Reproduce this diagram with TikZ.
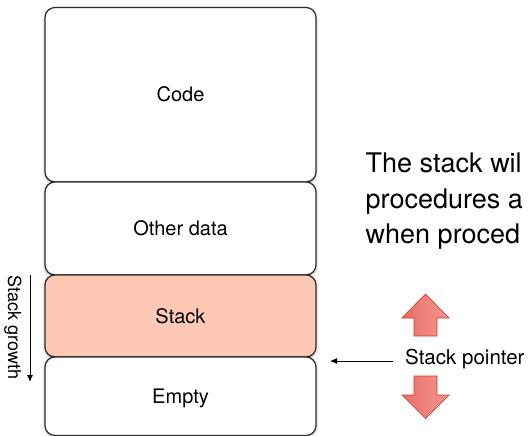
\documentclass[tikz,border=0pt]{standalone}
\usepackage{fontspec}
\setmainfont{TeX Gyre Heros}
\usetikzlibrary{arrows.meta,shadows.blur}

\definecolor{stackfill}{RGB}{253,200,180}
\definecolor{arrleft}{RGB}{232,112,104}
\definecolor{arrright}{RGB}{245,150,142}
\definecolor{arrline}{RGB}{204,58,44}
\definecolor{boxline}{RGB}{45,45,45}

\begin{document}
\begin{tikzpicture}[
                x = 1pt, y = -1pt,
                seg/.style = {draw = boxline, line width = 1.2pt, fill = white, rounded corners = 10pt,
                              minimum width = 271pt, inner sep = 0pt,
                              font = \fontsize{20}{24}\selectfont, text height = 14pt, text depth = 0pt,
                              blur shadow = {shadow xshift = 0pt, shadow yshift = -1pt,
                                             shadow blur radius = 3pt, shadow opacity = 35}},
                blockarr/.style = {draw = arrline, line width = 0.7pt, line join = miter,
                                   left color = arrleft, right color = arrright},
                arr/.style = {draw, line width = 1pt, -{Latex[length = 7pt, width = 6pt]}},
            ]
            \useasboundingbox (0, 0) rectangle (530, 436);
            \clip (0, 0) rectangle (530, 436);

            \node (code) at (180.5, 94.75) [seg, minimum height = 174.5pt] {Code};
            \node (other) at (180.5, 228.5) [seg, minimum height = 93pt] {Other data};
            \node (stack) at (180.5, 316) [seg, minimum height = 82pt, fill = stackfill] {Stack};
            \node (empty) at (180.5, 396.25) [seg, minimum height = 78.5pt] {Empty};

            \coordinate (gtop) at (30, 275);
            \coordinate (gbot) at (30, 382);
            \node (growth) at (13, 275.5) [anchor = west, rotate = -90, inner sep = 0pt]
                {\fontsize{18pt}{22pt}\selectfont Stack growth};
            \path[arr] (gtop) -- (gbot);

            \node (sp) at (405, 364.5) [anchor = base west, inner sep = 0pt, font = \fontsize{20.5}{24}\selectfont] {Stack pointer};
            \coordinate (sptip) at (330, 361);
            \path[arr] (sp.west |- sptip) ++(-12, 0) -- (sptip);

            % grow / shrink
            \path[blockarr] (425.5, 294) -- (449, 318) -- (437, 318) -- (437, 336) -- (414, 336)
                -- (414, 318) -- (402, 318) -- cycle;
            \path[blockarr] (414, 376) -- (437, 376) -- (437, 395) -- (449, 395) -- (425.5, 418.5)
                -- (402, 395) -- (414, 395) -- cycle;

            \node (note) at (365.5, 152.5) [anchor = north west, inner sep = 0pt, align = left,
                font = \fontsize{27}{35.7}\selectfont] {The stack wil\\procedures a\\when proced};
        \end{tikzpicture}
\end{document}
